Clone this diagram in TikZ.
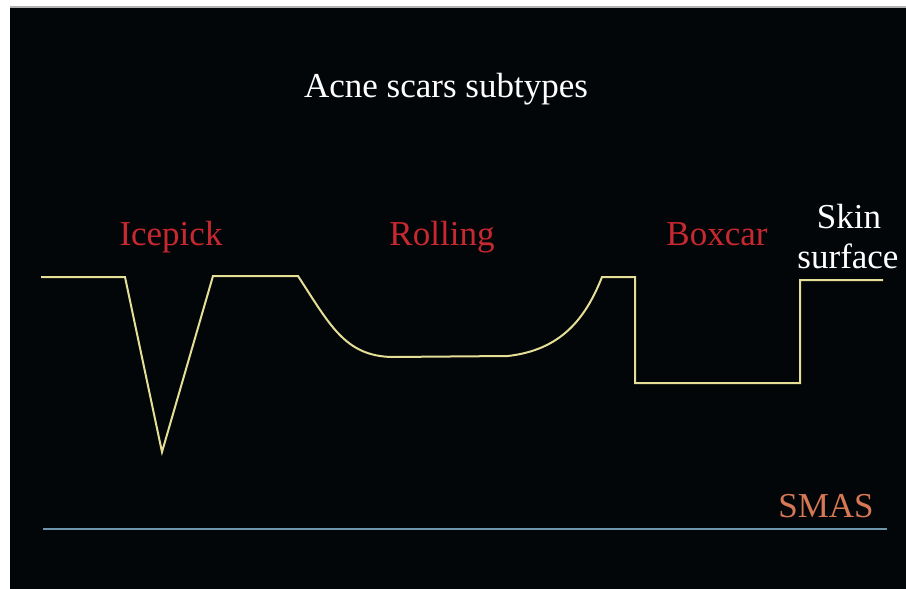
\documentclass[tikz,border=0pt]{standalone}
\usepackage{fontspec}
\setmainfont{Liberation Serif}
\definecolor{skinline}{RGB}{228,222,150}
\definecolor{labelred}{RGB}{200,40,48}
\definecolor{smasline}{RGB}{110,150,170}
\definecolor{smastext}{RGB}{215,120,85}
\definecolor{bg}{RGB}{3,6,8}
\begin{document}
\begin{tikzpicture}[x=1pt,y=-1pt,
  lbl/.style={anchor=base,inner sep=0pt,font=\fontsize{35}{42}\selectfont},
  redlbl/.style={lbl,text=labelred},
  skin/.style={draw=skinline,line width=2pt,line join=miter}]
\useasboundingbox (0,0) rectangle (906,589);
\fill[white] (0,0) rectangle (906,589);
\fill[bg] (10,7) rectangle (906,589);
\fill[gray!60] (10,6) rectangle (906,8);
\node[lbl,text=white] (title) at (446,97) {Acne scars subtypes};
\node[redlbl] (icepick) at (171,245) {Icepick};
\node[redlbl] (rolling) at (442,245) {Rolling};
\node[redlbl] (boxcar) at (717,245) {Boxcar};
\node[lbl,text=white] (skin1) at (849,228) {Skin};
\node[lbl,text=white] (skin2) at (848,268) {surface};
\node[lbl,text=smastext] (smas) at (826,517) {SMAS};
\coordinate (s0) at (41,277);
\coordinate (s1) at (125,277);
\coordinate (s2) at (162,452);
\coordinate (s3) at (213,276);
\coordinate (s4) at (298,276);
\coordinate (s5) at (392,357);
\coordinate (s6) at (508,356);
\coordinate (s7) at (602,277);
\coordinate (s8) at (635,277);
\coordinate (s9) at (635,383);
\coordinate (s10) at (800,383);
\coordinate (s11) at (800,280);
\coordinate (s12) at (883,280);
\draw[skin] (s0) -- (s1) -- (s2) -- (s3) -- (s4)
  .. controls (330,325) and (345,356) .. (s5)
  -- (s6) .. controls (560,350) and (585,320) .. (s7)
  -- (s8) -- (s9) -- (s10) -- (s11) -- (s12);
\coordinate (m0) at (43,529);
\coordinate (m1) at (887,529);
\draw[smasline,line width=2pt] (m0) -- (m1);
\end{tikzpicture}
\end{document}
